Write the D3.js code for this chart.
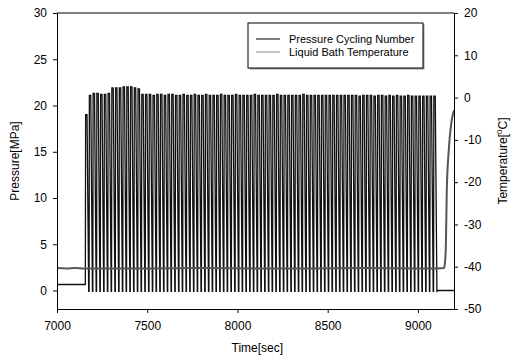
<!DOCTYPE html>
<html>
<head>
<meta charset="utf-8">
<script src="https://cdn.jsdelivr.net/npm/d3@7"></script>
<style>
  body { margin: 0; background: #fff; }
  svg { font-family: "Liberation Sans", Arial, sans-serif; }
  .axis text { font-size: 12px; fill: #000; }
  .axis path, .axis line { stroke: #000; }
</style>
</head>
<body>
<div id="chart"></div>
<script>
// x axis / y axis ticks
const timeTicks = [7000, 7500, 8000, 8500, 9000];
const pressureTicks = [0, 5, 10, 15, 20, 25, 30];
const tempTicks = [-50, -40, -30, -20, -10, 0, 10, 20];

// pressure before / after cycling [time, MPa]
const pressureBefore = [[7000, 0.65], [7155, 0.65]];
const pressureAfter = [[9112, 0.0], [9200, 0.0]];
const cycleStart = 7157;
const cyclePeriod = 20.75;
const troughValue = -0.1;
// peak pressure of each cycle
const cyclePeaks = [
  19.0, 21.1, 21.3, 21.3, 21.2, 21.2, 21.3, 21.9, 21.9, 21.9,
  22.0, 22.0, 22.0, 21.9, 21.8, 21.2, 21.2, 21.2, 21.1, 21.2,
  21.2, 21.1, 21.2, 21.2, 21.1, 21.1, 21.2, 21.1, 21.1, 21.2,
  21.1, 21.1, 21.2, 21.1, 21.1, 21.1, 21.2, 21.1, 21.1, 21.1,
  21.2, 21.1, 21.1, 21.1, 21.1, 21.2, 21.1, 21.1, 21.1, 21.1,
  21.1, 21.2, 21.1, 21.1, 21.1, 21.1, 21.1, 21.1, 21.2, 21.1,
  21.1, 21.1, 21.1, 21.1, 21.1, 21.1, 21.1, 21.1, 21.1, 21.1,
  21.1, 21.1, 21.1, 21.0, 21.1, 21.1, 21.1, 21.0, 21.1, 21.1,
  21.0, 21.1, 21.0, 21.1, 21.0, 21.0, 21.1, 21.0, 21.0, 21.0,
  21.0, 21.0, 21.0, 21.0
];

// liquid bath temperature [time, degC]
const tempTimes = [7000, 7050, 7100, 7150, 7300, 7500, 7800, 8100, 8400, 8700, 9000, 9100, 9145, 9150, 9155, 9160, 9170, 9185, 9200];
const tempValues = [-40.3, -40.4, -40.3, -40.4, -40.4, -40.4, -40.3, -40.4, -40.4, -40.3, -40.4, -40.4, -40.3, -39.0, -35.0, -22.0, -13.0, -6.0, -3.0];

const W = 514, H = 360;
const margin = { top: 13, right: 60, bottom: 51, left: 57 };
const width = W - margin.left - margin.right;
const height = H - margin.top - margin.bottom;

const svg = d3.select('#chart').append('svg')
  .attr('width', W)
  .attr('height', H);
const g = svg.append('g')
  .attr('transform', `translate(${margin.left},${margin.top})`);

const x = d3.scaleLinear().domain([7000, 9200]).range([0, width]);
const yP = d3.scaleLinear().domain([-2, 30]).range([height, 0]);
const yT = d3.scaleLinear().domain([-50, 20]).range([height, 0]);

// build the pressure trace from the cycle table
const pressure = pressureBefore.slice();
cyclePeaks.forEach((p, i) => {
  const t0 = cycleStart + i * cyclePeriod;
  pressure.push([t0, i === 0 ? 0.65 : troughValue]);
  pressure.push([t0 + 0.08 * cyclePeriod, p]);
  pressure.push([t0 + 0.45 * cyclePeriod, p]);
  pressure.push([t0 + 0.9 * cyclePeriod, troughValue]);
});
pressureAfter.forEach(d => pressure.push(d));

const temp = tempTimes.map((t, i) => [t, tempValues[i]]);

// top frame line
g.append('line')
  .attr('x1', 0).attr('x2', width).attr('y1', 0).attr('y2', 0)
  .attr('stroke', '#000');

g.append('path')
  .datum(pressure)
  .attr('fill', 'none')
  .attr('stroke', '#111')
  .attr('stroke-width', 1.3)
  .attr('d', d3.line().x(d => x(d[0])).y(d => yP(d[1])));

g.append('path')
  .datum(temp)
  .attr('fill', 'none')
  .attr('stroke', '#555')
  .attr('stroke-width', 2)
  .attr('d', d3.line().curve(d3.curveMonotoneX).x(d => x(d[0])).y(d => yT(d[1])));

const plain = d => String(d);

g.append('g')
  .attr('class', 'axis')
  .attr('transform', `translate(0,${height})`)
  .call(d3.axisBottom(x).tickValues(timeTicks).tickFormat(plain).tickSize(4).tickSizeOuter(0).tickPadding(8));

g.append('g')
  .attr('class', 'axis')
  .call(d3.axisLeft(yP).tickValues(pressureTicks).tickFormat(plain).tickSize(4).tickSizeOuter(0).tickPadding(6));

g.append('g')
  .attr('class', 'axis')
  .attr('transform', `translate(${width},0)`)
  .call(d3.axisRight(yT).tickValues(tempTicks).tickFormat(plain).tickSize(4).tickSizeOuter(0).tickPadding(6));

// axis titles
svg.append('text')
  .attr('x', margin.left + x(8110))
  .attr('y', 352)
  .attr('text-anchor', 'middle')
  .style('font-size', '12px')
  .text('Time[sec]');

svg.append('text')
  .attr('transform', `translate(19,${margin.top + height / 2}) rotate(-90)`)
  .attr('text-anchor', 'middle')
  .style('font-size', '12px')
  .text('Pressure[MPa]');

const tLabel = svg.append('text')
  .attr('transform', `translate(507,${margin.top + height / 2}) rotate(-90)`)
  .attr('text-anchor', 'middle')
  .style('font-size', '12px');
tLabel.append('tspan').text('Temperature[');
tLabel.append('tspan').attr('dy', -5).style('font-size', '8px').text('0');
tLabel.append('tspan').attr('dy', 5).text('C]');

// legend
const legend = svg.append('g').attr('transform', 'translate(248,23)');
legend.append('rect')
  .attr('x', 1.5).attr('y', 1.5).attr('width', 175).attr('height', 45)
  .attr('fill', '#999');
legend.append('rect')
  .attr('x', 0).attr('y', 0).attr('width', 175).attr('height', 45)
  .attr('fill', '#fff').attr('stroke', '#000');
const legendItems = [
  { label: 'Pressure Cycling Number', color: '#000' },
  { label: 'Liquid Bath Temperature', color: '#888' }
];
legendItems.forEach((d, i) => {
  const row = legend.append('g').attr('transform', `translate(0,${16 + i * 13})`);
  row.append('line')
    .attr('x1', 8).attr('x2', 32).attr('y1', 0).attr('y2', 0)
    .attr('stroke', d.color).attr('stroke-width', 1);
  row.append('text')
    .attr('x', 41).attr('y', 4)
    .style('font-size', '11px')
    .text(d.label);
});
</script>
</body>
</html>
